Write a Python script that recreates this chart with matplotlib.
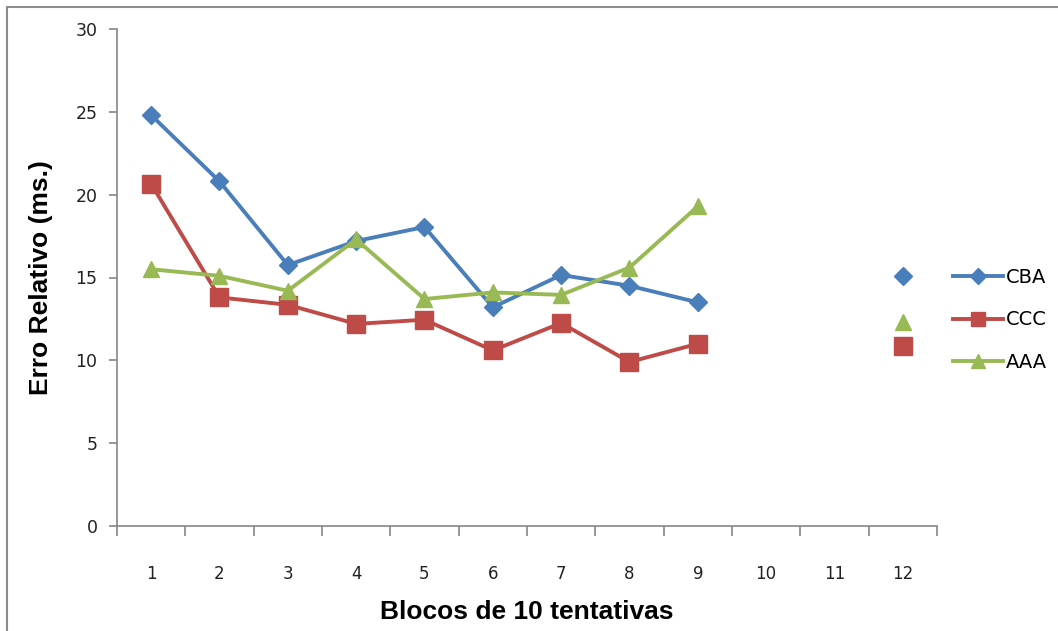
import numpy as np
import matplotlib
matplotlib.use("Agg")
import matplotlib.pyplot as plt
from matplotlib.patches import Rectangle

# Blocks of 10 trials (10 and 11 have no data)
blocks = list(range(1, 13))
tick_labels = [str(b) for b in blocks]

nan = np.nan
cba = [24.8, 20.8, 15.75, 17.2, 18.05, 13.2, 15.15, 14.5, 13.5, nan, nan, 15.1]
ccc = [20.65, 13.8, 13.35, 12.2, 12.45, 10.6, 12.25, 9.9, 11.0, nan, nan, 10.85]
aaa = [15.5, 15.1, 14.2, 17.3, 13.7, 14.1, 13.95, 15.6, 19.3, nan, nan, 12.3]

series = [
    ("CBA", cba, "#4A7EBB", "D", 9.5),
    ("CCC", ccc, "#BE4B48", "s", 12.5),
    ("AAA", aaa, "#98B954", "^", 12),
]

fig = plt.figure(figsize=(10.58, 6.31), dpi=100)
ax = fig.add_axes([117 / 1058, 1 - 526 / 631, (937 - 117) / 1058, (526 - 29) / 631])

for name, vals, color, marker, ms in series:
    ax.plot(blocks, vals, color=color, lw=2.8, marker=marker, ms=ms,
            markeredgecolor=color, label=name, clip_on=False)

ax.set_xlim(0.5, 12.5)
ax.set_ylim(0, 30)
ax.set_yticks(range(0, 31, 5))
ax.set_xticks(blocks)
ax.set_xticklabels(tick_labels)
ax.set_xticks(np.arange(0.5, 13, 1), minor=True)

for side in ("top", "right"):
    ax.spines[side].set_visible(False)
for side in ("left", "bottom"):
    ax.spines[side].set_color("#868686")
    ax.spines[side].set_linewidth(1.2)

ax.tick_params(axis="x", which="major", length=0, pad=28, labelsize=12,
               labelcolor="#222222")
ax.tick_params(axis="x", which="minor", length=7, color="#868686", width=1.2)
ax.tick_params(axis="y", length=6, color="#868686", width=1.2, pad=8,
               labelsize=12.5, labelcolor="#222222")

ax.set_ylabel("Erro Relativo (ms.)", fontsize=19, fontweight="bold",
              family="Liberation Sans", labelpad=16)
ax.set_xlabel("Blocos de 10 tentativas", fontsize=19, fontweight="bold",
              family="Liberation Sans", labelpad=12)

fig.legend(loc="center left", bbox_to_anchor=(935 / 1058, 1 - 320 / 631),
           frameon=False, fontsize=14, handlelength=2.6, labelspacing=1.2,
           handletextpad=0.15, markerscale=0.85)

# Outer frame around the chart area
fig.patches.append(Rectangle((7 / 1058, -0.1), 1.2, 1 - 7 / 631 + 0.1,
                             transform=fig.transFigure, fill=False,
                             edgecolor="#8c8c8c", lw=1.5))

fig.savefig("out.png", dpi=100)
